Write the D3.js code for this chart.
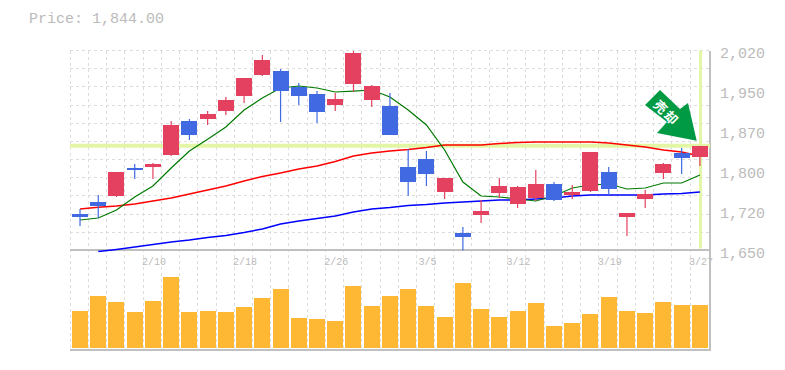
<!DOCTYPE html>
<html lang="en">
<head>
    <meta charset="UTF-8">
    <title>Price chart</title>
    <script src="https://d3js.org/d3.v7.min.js"></script>
    <style>
        html, body { margin: 0; padding: 0; background: #fff; }
        svg { display: block; }
        text { font-family: "Liberation Mono", monospace; fill: #bbb; }
        .grid { stroke: #ddd; stroke-width: 1; stroke-dasharray: 3 3; shape-rendering: crispEdges; }
        .frame { stroke: #c0c0c0; stroke-width: 2; shape-rendering: crispEdges; }
        .ma { fill: none; }
    </style>
</head>
<body>
    <div id="chart"></div>

    <script>
        const dates = ["2/4","2/5","2/6","2/7","2/10","2/12","2/13","2/14","2/17","2/18","2/19","2/20","2/21","2/25","2/26","2/27","2/28","3/3","3/4","3/5","3/6","3/7","3/10","3/11","3/12","3/13","3/14","3/17","3/18","3/19","3/21","3/24","3/25","3/26","3/27"];
        const opens = [1717.5,1739.7,1750.8,1802.6,1804.5,1826.7,1889.6,1893.3,1908,1935.8,1974.7,1982,1952.5,1939.5,1919.2,1958,1928.4,1917.3,1804.5,1819.3,1758.2,1682.4,1715.7,1756.4,1736,1747.1,1773,1752.7,1760.1,1795.2,1712,1745.3,1793.4,1830.4,1823];
        const closes = [1712,1732.3,1795.2,1798.9,1810,1882.2,1863.7,1902.5,1928.4,1969.1,2002.4,1945,1935.8,1906.2,1930.3,2015.4,1954.3,1863.7,1776.7,1791.5,1784.1,1675,1723.1,1769.3,1767.5,1773,1743.4,1758.2,1832.2,1763.8,1719.4,1754.5,1810,1821.1,1844];
        const highs = [1726.8,1752.7,1795.2,1810,1811.9,1889.6,1893.3,1908,1934,1969.1,2011.7,1985.8,1959.9,1945,1941.4,2019,1956.2,1941.4,1837.8,1834.1,1784.1,1693.5,1743.4,1784.1,1769.3,1798.9,1776.7,1771.2,1832.2,1804.5,1719.4,1761.9,1811.9,1839.6,1844];
        const lows = [1695.3,1710.1,1749,1782.3,1782.3,1824.8,1854.4,1882.2,1900.7,1922.9,1972.8,1887.7,1919.2,1885.9,1908,1943.2,1915.5,1863.7,1750.8,1769.3,1745.3,1650,1700.9,1747.1,1728.6,1741.6,1741.6,1745.3,1758.2,1752.7,1676.8,1728.6,1782.3,1791.5,1806.3];
        const maShort = [1706.4,1710.1,1724.9,1749,1769.3,1802.6,1834.1,1856,1878.5,1909.9,1932.1,1950.6,1954.3,1950.6,1943.2,1945,1946.9,1934,1909.9,1882.2,1835.9,1776.7,1750.8,1749,1745.3,1741.6,1750.8,1765.6,1771.2,1773,1763.8,1765.6,1774.9,1774.9,1789.7];
        const maMid = [1726.8,1729.9,1732.3,1736,1741.6,1747.1,1754.5,1761.9,1769.3,1778.6,1786.9,1793.4,1800.8,1806.3,1814.7,1824.8,1830.4,1834.1,1836.9,1840.6,1845.2,1845.2,1845.2,1848,1849.8,1850.7,1850.7,1850.7,1850.7,1848.9,1845.2,1841.5,1835.9,1832.2,1824.8];
        const maLong = [null,1648,1651.9,1656.5,1661.1,1665.7,1669.4,1674,1677.8,1683.3,1689.8,1699,1704.6,1709.2,1713.8,1721.2,1726.8,1729.6,1733.3,1735.1,1737.9,1739.7,1741.6,1743.4,1743.4,1745.3,1747.1,1750.8,1752.7,1752.7,1752.7,1752.7,1754.5,1755.5,1758.2];
        const volume = [37,52,46,36,47,71,36,37,36,41,50,59,30,29,27,62,42,52,59,42,31,65,39,31,37,45,22,25,34,51,37,35,46,43,43];
        const priceTicks = [2020,1946,1872,1798,1724,1650];
        const priceLabels = ["2,020","1,950","1,870","1,800","1,720","1,650"];
        const dateTicks = ["2/10","2/18","2/26","3/5","3/12","3/19","3/27"];
        const lastPrice = 1844;

        const width = 785, height = 370;
        const paneLeft = 70, paneRight = 710, paneTop = 50.5, paneMid = 250.5, paneBottom = 350;
        const barWidth = 16;

        const svg = d3.select("#chart")
                        .append("svg")
                        .attr("width", width)
                        .attr("height", height);

        const x = d3.scaleBand().domain(dates).range([70.9, 709]);
        const cx = d => x(d) + x.bandwidth() / 2;
        const y = d3.scaleLinear().domain([1650, 2020]).range([paneMid, paneTop]);
        const yVol = d3.scaleLinear().domain([0, 100]).range([348, 248]);

        // grid, 11 rows in the price pane, one column per session
        const rows = d3.range(12).map(i => paneTop + i * (paneMid - paneTop) / 11);
        svg.append("g").selectAll("line").data(rows).enter().append("line")
            .attr("class", "grid")
            .attr("x1", paneLeft).attr("x2", paneRight)
            .attr("y1", d => Math.floor(d) + 0.5).attr("y2", d => Math.floor(d) + 0.5);
        svg.append("g").selectAll("line").data(dates).enter().append("line")
            .attr("class", "grid")
            .attr("x1", d => Math.floor(x(d) - 0.75) + 0.5).attr("x2", d => Math.floor(x(d) - 0.75) + 0.5)
            .attr("y1", paneTop).attr("y2", paneBottom);

        // x labels sit under the pane line, the last one runs into the right frame
        const xAxis = d3.axisBottom(x)
            .tickValues(dateTicks)
            .tickSize(0)
            .tickPadding(7);
        const gx = svg.append("g").attr("transform", `translate(1, ${paneMid})`).call(xAxis);
        gx.select(".domain").remove();
        gx.selectAll("text").style("font-size", "10px").style("fill", "#bbb");

        svg.append("line").attr("class", "frame").attr("x1", paneLeft).attr("x2", paneRight + 1).attr("y1", 250).attr("y2", 250).style("stroke-width", 1.5);
        svg.append("line").attr("class", "frame").attr("x1", paneLeft).attr("x2", paneRight + 1).attr("y1", paneBottom).attr("y2", paneBottom);
        svg.append("line").attr("class", "frame").attr("x1", paneRight).attr("x2", paneRight).attr("y1", paneTop).attr("y2", paneBottom + 1);

        // highlight of the last price
        svg.append("line")
            .attr("x1", paneLeft).attr("x2", paneRight)
            .attr("y1", y(lastPrice)).attr("y2", y(lastPrice))
            .attr("stroke", "#e3f6a5").attr("stroke-width", 4);
        svg.append("line")
            .attr("x1", cx(dates[34]) + 0.7).attr("x2", cx(dates[34]) + 0.7)
            .attr("y1", paneTop).attr("y2", paneMid - 2)
            .attr("stroke", "#e3f6a5").attr("stroke-width", 3);

        // volume
        svg.append("g").selectAll("rect").data(dates).enter().append("rect")
            .attr("x", d => x(d) + (x.bandwidth() - barWidth) / 2)
            .attr("width", barWidth)
            .attr("y", (d, i) => yVol(volume[i]))
            .attr("height", (d, i) => 348 - yVol(volume[i]))
            .attr("fill", "#ffb833")
            .attr("shape-rendering", "crispEdges");

        // moving averages
        const lineOf = d3.line()
            .defined(d => d[1] !== null)
            .x(d => cx(d[0]))
            .y(d => y(d[1]));
        const plot = svg.append("g");
        plot.append("clipPath").attr("id", "pane").append("rect")
            .attr("x", paneLeft).attr("y", paneTop).attr("width", paneRight - paneLeft).attr("height", paneMid - paneTop + 2);
        [[maLong, "#0000ff", 1.5], [maMid, "#ff0000", 1.5], [maShort, "#007a00", 1.2]].forEach(s => {
            plot.append("path")
                .attr("class", "ma")
                .attr("clip-path", "url(#pane)")
                .attr("d", lineOf(s[0].map((v, i) => [dates[i], v])))
                .attr("stroke", s[1])
                .attr("stroke-width", s[2]);
        });

        // candles
        const candleColor = i => closes[i] >= opens[i] ? "#e3415f" : "#4169e1";
        const candles = svg.append("g").selectAll("g").data(dates).enter().append("g");
        candles.append("line")
            .attr("x1", d => cx(d)).attr("x2", d => cx(d))
            .attr("y1", (d, i) => y(highs[i])).attr("y2", (d, i) => y(lows[i]))
            .attr("stroke", (d, i) => candleColor(i))
            .attr("stroke-width", 1.2);
        candles.append("rect")
            .attr("x", d => x(d) + (x.bandwidth() - barWidth) / 2)
            .attr("width", barWidth)
            .attr("y", (d, i) => y(Math.max(opens[i], closes[i])))
            .attr("height", (d, i) => Math.abs(y(opens[i]) - y(closes[i])))
            .attr("fill", (d, i) => candleColor(i))
            .attr("shape-rendering", "crispEdges");

        // signal arrow
        svg.append("path")
            .attr("d", "M645,105L660,90L680,109L688,103L696.7,140.7L657,133L667,122Z")
            .attr("fill", "#009944");
        svg.append("text")
            .attr("transform", "translate(667,112.5) rotate(45)")
            .attr("text-anchor", "middle")
            .attr("dominant-baseline", "central")
            .style("font-family", "'Noto Sans CJK JP'")
            .style("font-size", "13px")
            .style("font-weight", "bold")
            .style("letter-spacing", "2px")
            .style("fill", "#fff")
            .text("売却");

        // price axis
        const yAxis = d3.axisRight(y)
            .tickValues(priceTicks)
            .tickSize(0)
            .tickPadding(10)
            .tickFormat((d, i) => priceLabels[i]);
        const gy = svg.append("g").attr("transform", `translate(${paneRight}, 1)`).call(yAxis);
        gy.select(".domain").remove();
        gy.selectAll("text").style("font-size", "15px").style("fill", "#bbb").attr("dy", "0.4em");

        svg.append("text")
            .attr("x", 29).attr("y", 23)
            .style("font-size", "15px")
            .text("Price: 1,844.00");
    </script>
</body>
</html>
